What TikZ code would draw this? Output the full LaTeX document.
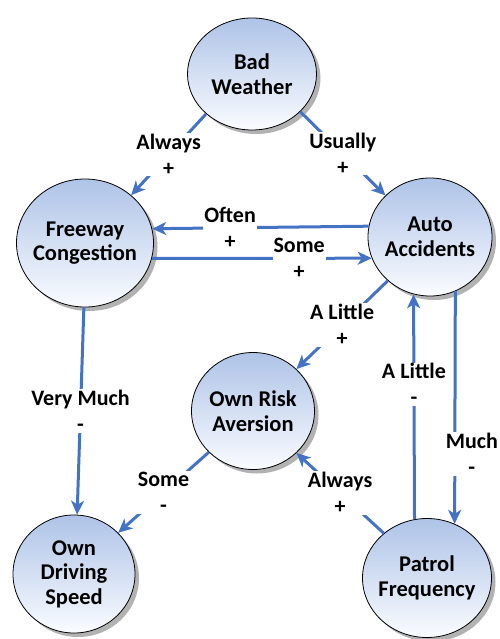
\documentclass[tikz,border=0pt]{standalone}
\usepackage{fontspec}
\setmainfont{Carlito}
\usetikzlibrary{arrows.meta, shapes.geometric, shadows}
\definecolor{flowblue}{HTML}{4472C4}
\definecolor{topblue}{HTML}{AEC3E7}
\definecolor{botblue}{HTML}{FAFCFF}

\begin{document}
\begin{tikzpicture}[x=1pt, y=-1pt, >={Stealth[length=14pt, width=13pt, inset=4pt]},
    factor/.style={ellipse, draw=black, line width=0.8pt, top color=topblue, bottom color=botblue,
        align=center, inner xsep=-8pt, inner ysep=0pt, font=\bfseries\fontsize{22.5}{24.5}\selectfont,
        drop shadow={shadow xshift=4pt, shadow yshift=-4pt, fill=black!30, opacity=1}},
    flow/.style={->, draw=flowblue, line width=3pt},
    lbl/.style={fill=white, align=center, inner sep=1pt, font=\bfseries\fontsize{22}{26}\selectfont}]
\useasboundingbox (0,0) rectangle (499,639);
\node[factor, minimum width=129pt, minimum height=112pt] (bw) at (252,74) {Bad\\Weather};
\node[factor, minimum width=137pt, minimum height=128pt] (fc) at (85,243) {Freeway\\Congestion};
\node[factor, minimum width=124pt, minimum height=118pt] (aa) at (430,237) {Auto\\Accidents};
\node[factor, minimum width=123pt, minimum height=117pt] (ora) at (253,411) {Own Risk\\Aversion};
\node[factor, minimum width=122pt, minimum height=118pt] (ods) at (74,574) {Own\\Driving\\Speed};
\node[factor, minimum width=129pt, minimum height=119pt] (pf) at (427,578) {Patrol\\Frequency};

\draw[flow] (bw.221) -- node[lbl]{Always\\+} (fc.46);
\draw[flow] (bw.322) -- node[lbl]{Usually\\+} (aa.137);
\draw[flow] (aa.170) -- node[lbl, pos=0.64]{Often\\+} (fc.12);
\draw[flow] (fc.347) -- node[lbl, pos=0.67]{Some\\+} (aa.200);
\draw[flow] (aa.226) -- node[lbl]{A Little\\+} (ora.44);
\draw[flow] (pf.102) -- node[lbl, pos=0.6]{A Little\\-} (aa.254);
\draw[flow] (aa.295) -- node[lbl, pos=0.7, xshift=17pt]{Much\\-} (pf.63);
\draw[flow] (fc.269) -- node[lbl]{Very Much\\-} (ods.87);
\draw[flow] (ora.223) -- node[lbl]{Some\\-} (ods.43);
\draw[flow] (pf.134) -- node[lbl]{Always\\+} (ora.316);

\end{tikzpicture}
\end{document}
